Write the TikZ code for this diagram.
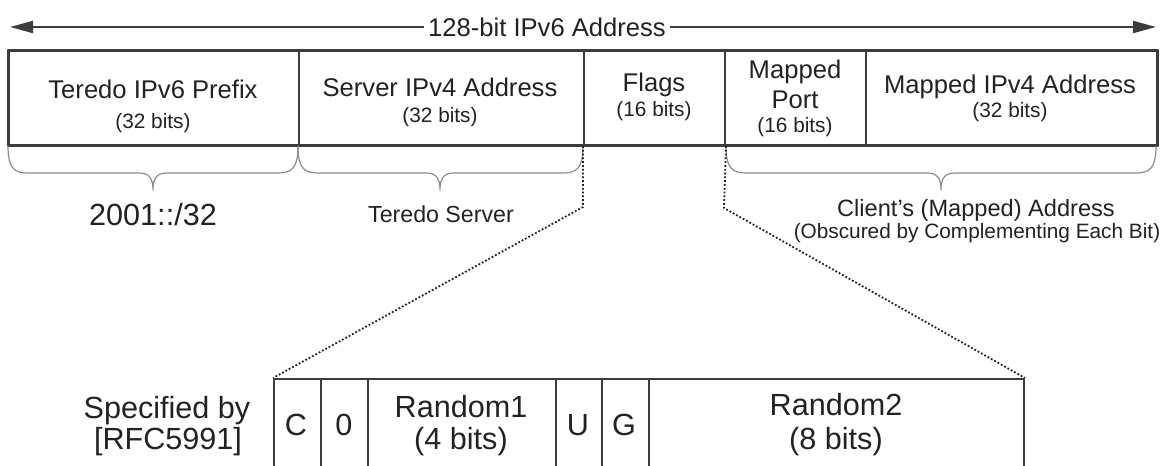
\documentclass[tikz,border=0pt]{standalone}
\usepackage{fontspec}
\setmainfont{Liberation Sans}
\usetikzlibrary{arrows.meta}
\definecolor{ink}{HTML}{222222}
\definecolor{edge}{HTML}{3C3C3C}
\definecolor{brk}{HTML}{8C8C8C}
\tikzset{fig/.style={line join=round,x=0.5pt,y=-0.5pt},
  fld/.style={draw=edge,line width=1pt,inner sep=0pt,anchor=north west,minimum height=47pt},
  big/.style={font=\fontsize{12.8}{15}\selectfont,text=ink,anchor=base,inner sep=0pt},
  sml/.style={font=\fontsize{10.4}{12}\selectfont,text=ink,anchor=base,inner sep=0pt},
  lrg/.style={font=\fontsize{15.3}{18}\selectfont,text=ink,anchor=base,inner sep=0pt},
  dots/.style={draw=ink,line width=0.9pt,densely dotted},
  brc/.style={draw=brk,line width=0.6pt},
  arr/.style={draw=edge,line width=1pt,-{Triangle[length=11.5pt,width=6pt]}}}
\newcommand\curly[3]{\draw[brc](#1,146)..controls(#1,168)and({#1+6},173)..({#1+20},173)--({#2-14},173)
  ..controls({#2-4},173)and(#2,178)..(#2,190)..controls(#2,178)and({#2+4},173)..({#2+14},173)
  --({#3-20},173)..controls({#3-6},173)and(#3,168)..(#3,146);}

\begin{document}
\begin{tikzpicture}[fig]
  \clip(0,0)rectangle(1164,466);
  % total width arrow
  \node[big,anchor=center,inner sep=2pt](ttl)at(547,27){128-bit IPv6 Address};
  \coordinate(lt)at(10,27);\coordinate(rt)at(1156,27);
  \draw[arr](ttl.west)--(lt);\draw[arr](ttl.east)--(rt);
  % address fields
  \node[fld,minimum width=145pt](pfx)at(8,50){};
  \node[fld,minimum width=142.5pt](srv)at(298,50){};
  \node[fld,minimum width=70.5pt](flg)at(583,50){};
  \node[fld,minimum width=70.5pt](prt)at(724,50){};
  \node[fld,minimum width=145.5pt](map)at(865,50){};
  \draw[edge,line width=1.4pt](pfx.north west)rectangle(map.south east);
  \node[big](pfx1)at(153,98){Teredo IPv6 Prefix};\node[sml](pfx2)at(153,128){(32 bits)};
  \node[big](srv1)at(440,97){Server IPv4 Address};\node[sml](srv2)at(440,122){(32 bits)};
  \node[big](flg1)at(654,91){Flags};\node[sml](flg2)at(654,116){(16 bits)};
  \node[big](prt1)at(795,78){Mapped};\node[big](prt2)at(795,108){Port};\node[sml](prt3)at(795,133){(16 bits)};
  \node[big](map1)at(1010,93){Mapped IPv4 Address};\node[sml](map2)at(1010,118){(32 bits)};
  % braces
  \curly{8}{153}{298}\curly{298}{440}{583}\curly{726}{941}{1156}
  \node[lrg](pre)at(153,225){2001::/32};
  \node[big,font=\fontsize{11.6}{14}\selectfont](tsv)at(441,222){Teredo Server};
  \node[big,font=\fontsize{11.8}{14}\selectfont](cli1)at(976,216){Client's (Mapped) Address};
  \node[sml](cli2)at(977,238){(Obscured by Complementing Each Bit)};
  % flags detail
  \node[fld,minimum width=23.5pt,minimum height=52pt](fc)at(273,378){};
  \node[fld,minimum width=23.5pt,minimum height=52pt](fz)at(320,378){};
  \node[fld,minimum width=94pt,minimum height=52pt](fr1)at(367,378){};
  \node[fld,minimum width=23pt,minimum height=52pt](fu)at(555,378){};
  \node[fld,minimum width=23.5pt,minimum height=52pt](fg)at(601,378){};
  \node[fld,minimum width=187.5pt,minimum height=52pt](fr2)at(648,378){};
  \node[lrg](c)at(296,435){C};\node[lrg](z)at(344,435){0};
  \node[lrg](r1a)at(461,417){Random1};\node[lrg](r1b)at(461,449){(4 bits)};
  \node[lrg](u)at(578,435){U};\node[lrg](g)at(624,435){G};
  \node[lrg](r2a)at(836,415){Random2};\node[lrg](r2b)at(836,449){(8 bits)};
  \node[lrg](spec1)at(167,418){Specified by};\node[lrg](spec2)at(168,449){[RFC5991]};
  % zoom lines
  \coordinate(k1)at(583,207);\coordinate(k2)at(724,208);
  \draw[dots](flg.south west)--(k1)--(fc.north west);
  \draw[dots](flg.south east)--(k2)--(fr2.north east);
\end{tikzpicture}
\end{document}
